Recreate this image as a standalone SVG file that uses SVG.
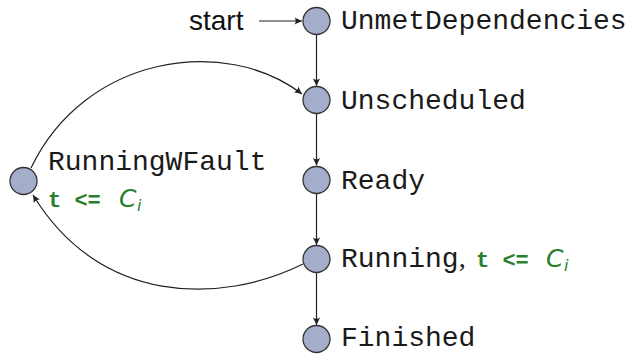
<svg xmlns="http://www.w3.org/2000/svg" width="627" height="354" viewBox="0 0 627 354">
  <style>
    .state { fill: #a4aecb; stroke: #333333; stroke-width: 1.3; }
    .edge { fill: none; stroke: #222222; stroke-width: 1.2; marker-end: url(#tip); }
    .name { font-family: "Liberation Mono", "DejaVu Sans Mono", monospace; font-size: 28px; fill: #1a1a1a; }
    .guard { font-family: "Liberation Mono", "DejaVu Sans Mono", monospace; font-size: 22px; font-weight: bold; fill: #2a7f2a; }
    .cap { font-family: "DejaVu Sans", "Liberation Sans", sans-serif; font-style: italic; font-size: 25px; fill: #2a7f2a; }
    .sub { font-family: "DejaVu Sans", "Liberation Sans", sans-serif; font-style: italic; font-size: 16px; fill: #2a7f2a; }
    .label { font-family: "Liberation Sans", "DejaVu Sans", sans-serif; font-size: 28px; fill: #111111; }
  </style>
  <defs>
    <marker id="tip" viewBox="-8 -4 9 8" refX="0" refY="0" markerWidth="9" markerHeight="8" markerUnits="userSpaceOnUse" orient="auto">
      <path d="M0,0 L-7.5,-3.6 Q-5,0 -7.5,3.6 Z" fill="#222222"/>
    </marker>
  </defs>

  <!-- transitions -->
  <g id="connectors">
    <path class="edge" d="M259,21 L302,21"/>
    <path class="edge" d="M316.5,34.5 L316.5,86"/>
    <path class="edge" d="M316.5,113.5 L316.5,165.5"/>
    <path class="edge" d="M316.5,193.5 L316.5,245"/>
    <path class="edge" d="M316.5,272.5 L316.5,325"/>
    <path class="edge" d="M31,168 C85,55 225,35 302,94"/>
    <path class="edge" d="M303,264 C220,305 100,305 33,195"/>
  </g>

  <!-- initial marker -->
  <g id="start">
    <text class="label" x="189" y="30">start</text>
  </g>

  <g id="unmet">
    <circle class="state" cx="316.5" cy="21" r="13.5"/>
    <text class="name" x="341" y="29">UnmetDependencies</text>
  </g>

  <g id="unscheduled">
    <circle class="state" cx="316.5" cy="100" r="13.5"/>
    <text class="name" x="341" y="109">Unscheduled</text>
  </g>

  <g id="ready">
    <circle class="state" cx="316.5" cy="180" r="13.5"/>
    <text class="name" x="341" y="189">Ready</text>
  </g>

  <g id="running">
    <circle class="state" cx="316.5" cy="259" r="13.5"/>
    <text class="name" x="341" y="267">Running<tspan font-family="Liberation Serif, serif">,</tspan></text>
    <text class="guard" x="476" y="267">t &lt;=</text>
    <text class="cap" x="546" y="267">C</text>
    <text class="sub" x="564" y="271">i</text>
  </g>

  <g id="finished">
    <circle class="state" cx="316.5" cy="339" r="13.5"/>
    <text class="name" x="341" y="346">Finished</text>
  </g>

  <g id="runningwfault">
    <circle class="state" cx="23.5" cy="181" r="13.5"/>
    <text class="name" x="48" y="170">RunningWFault</text>
    <text class="guard" x="48" y="207">t &lt;=</text>
    <text class="cap" x="119" y="207">C</text>
    <text class="sub" x="137" y="211">i</text>
  </g>
</svg>
